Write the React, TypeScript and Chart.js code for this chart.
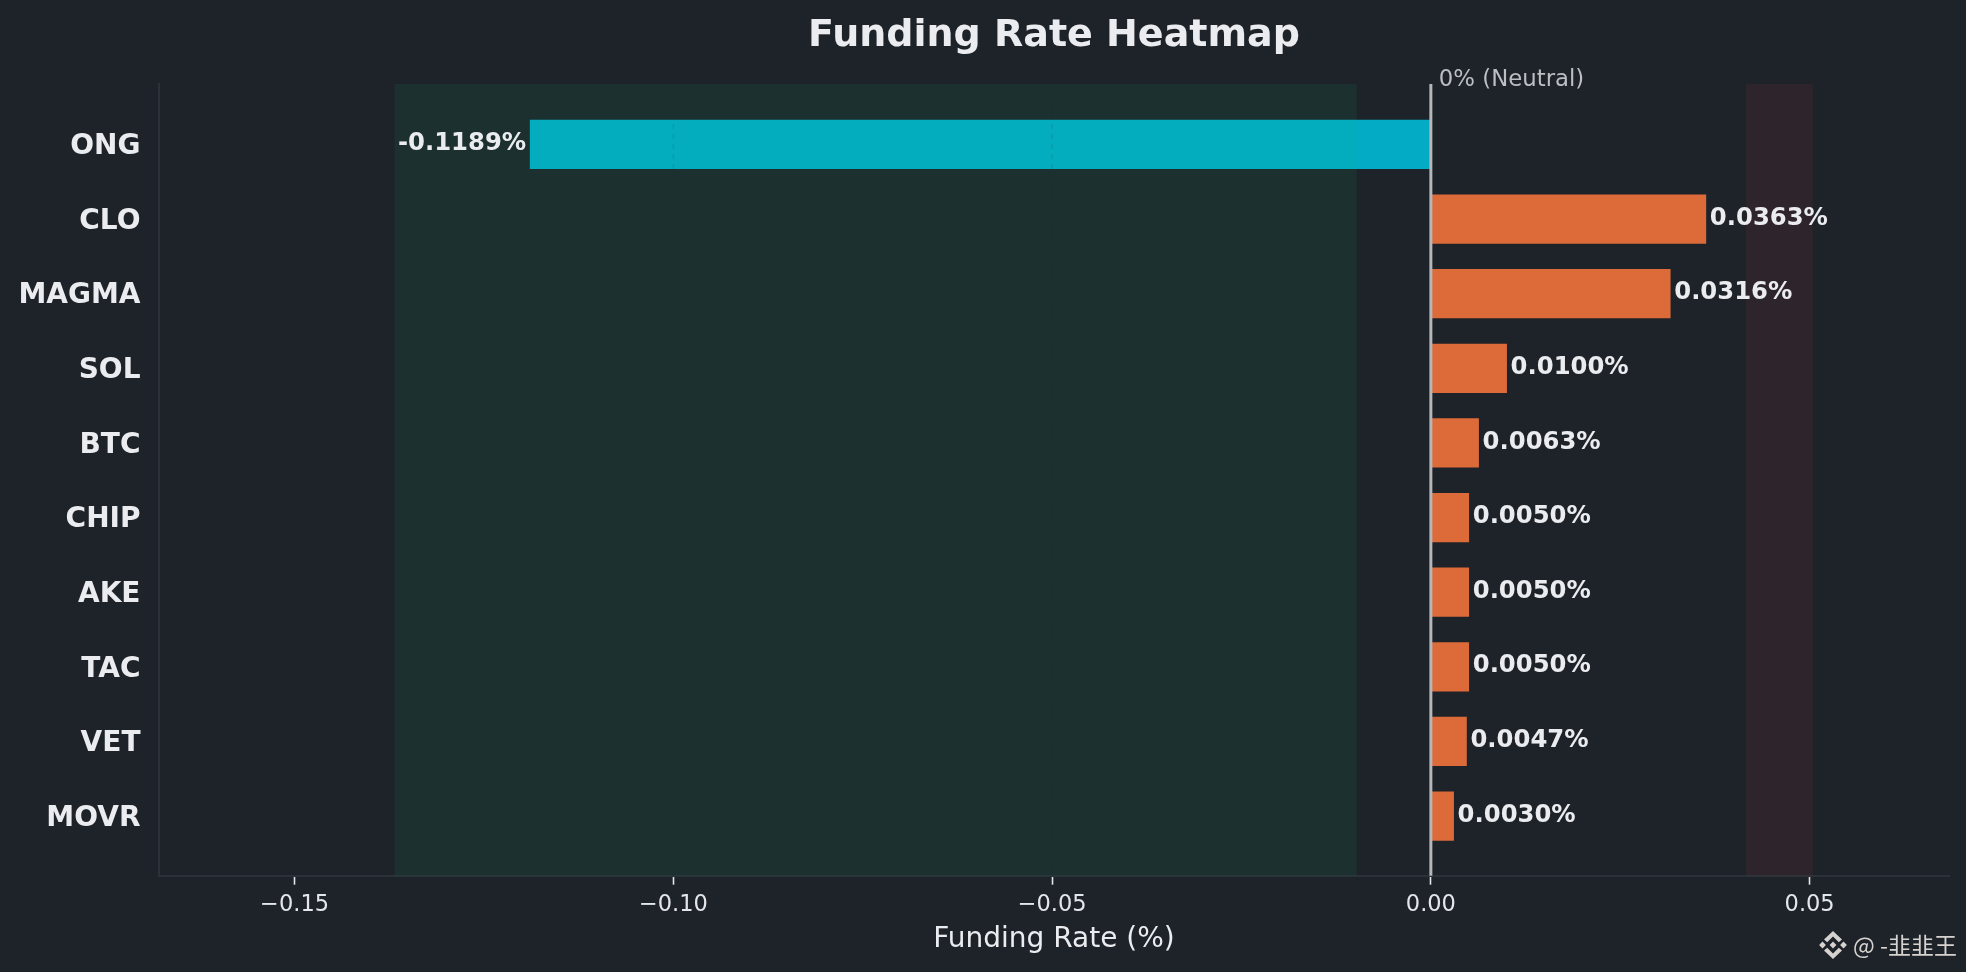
import { useEffect, useRef } from 'react';
import { Chart, registerables } from 'chart.js';

Chart.register(...registerables);

const symbols = ['ONG', 'CLO', 'MAGMA', 'SOL', 'BTC', 'CHIP', 'AKE', 'TAC', 'VET', 'MOVR'];
const fundingRates = [-0.1189, 0.0363, 0.0316, 0.01, 0.0063, 0.005, 0.005, 0.005, 0.0047, 0.003];
const rateTicks = [-0.15, -0.1, -0.05, 0, 0.05];
const greenBand = [-0.1368, -0.0098];
const redBand = [0.0416, 0.0504];

const BG = '#1e2329';
const TEXT = '#eaecef';
const SPINE = '#2b3139';
const FONT = '"DejaVu Sans", sans-serif';

const overlayPlugin = {
  id: 'overlay',
  afterDatasetsDraw(chart: Chart) {
    const { ctx, chartArea, scales } = chart;
    const x = scales.x;
    const { top, bottom } = chartArea;

    ctx.save();
    // grid sits over the bars, same colour as the page so it only shows on them
    ctx.strokeStyle = 'rgba(30, 35, 41, 0.13)';
    ctx.lineWidth = 1.5;
    ctx.setLineDash([5, 5]);
    rateTicks.forEach((t) => {
      const px = x.getPixelForValue(t);
      ctx.beginPath();
      ctx.moveTo(px, top);
      ctx.lineTo(px, bottom);
      ctx.stroke();
    });
    ctx.setLineDash([]);

    ctx.fillStyle = 'rgba(14, 203, 129, 0.08)';
    ctx.fillRect(x.getPixelForValue(greenBand[0]), top, x.getPixelForValue(greenBand[1]) - x.getPixelForValue(greenBand[0]), bottom - top);
    ctx.fillStyle = 'rgba(246, 70, 93, 0.08)';
    ctx.fillRect(x.getPixelForValue(redBand[0]), top, x.getPixelForValue(redBand[1]) - x.getPixelForValue(redBand[0]), bottom - top);

    const zero = x.getPixelForValue(0);
    ctx.strokeStyle = '#b5b7bb';
    ctx.lineWidth = 3;
    ctx.beginPath();
    ctx.moveTo(zero, top);
    ctx.lineTo(zero, bottom);
    ctx.stroke();

    ctx.fillStyle = '#bcbec2';
    ctx.font = `22.8px ${FONT}`;
    ctx.textAlign = 'left';
    ctx.textBaseline = 'middle';
    ctx.fillText('0% (Neutral)', zero + 8, 80.5);

    // value labels next to the bar ends
    ctx.fillStyle = TEXT;
    ctx.font = `bold 24.3px ${FONT}`;
    chart.getDatasetMeta(0).data.forEach((bar, i) => {
      const v = fundingRates[i];
      ctx.textAlign = v < 0 ? 'right' : 'left';
      ctx.fillText(`${v.toFixed(4)}%`, bar.x + (v < 0 ? -4 : 4), bar.y - 0.6);
    });

    // watermark
    ctx.fillStyle = '#d6d2cf';
    const lx = 1833;
    const ly = 945;
    const diamond = (cx: number, cy: number, r: number) => {
      ctx.beginPath();
      ctx.moveTo(cx, cy - r);
      ctx.lineTo(cx + r, cy);
      ctx.lineTo(cx, cy + r);
      ctx.lineTo(cx - r, cy);
      ctx.closePath();
      ctx.fill();
    };
    diamond(lx, ly, 3.4);
    diamond(lx - 10.5, ly, 3.4);
    diamond(lx + 10.5, ly, 3.4);
    [-1, 1].forEach((s) => {
      ctx.beginPath();
      ctx.moveTo(lx, ly + s * 14);
      ctx.lineTo(lx + 9, ly + s * 5.5);
      ctx.lineTo(lx + 5.8, ly + s * 2.7);
      ctx.lineTo(lx, ly + s * 8.4);
      ctx.lineTo(lx - 5.8, ly + s * 2.7);
      ctx.lineTo(lx - 9, ly + s * 5.5);
      ctx.closePath();
      ctx.fill();
    });
    ctx.font = `23px "Noto Sans CJK SC", "Noto Sans", sans-serif`;
    ctx.textAlign = 'left';
    ctx.fillText('@ -韭韭王', 1853, 945);
    ctx.restore();
  },
};

export default function App() {
  const canvasRef = useRef<HTMLCanvasElement>(null);

  useEffect(() => {
    document.body.style.margin = '0';
    document.body.style.background = BG;
    if (!canvasRef.current) return;

    const chart = new Chart(canvasRef.current, {
      type: 'bar',
      data: {
        datasets: [
          {
            data: fundingRates.map((v, i) => ({ x: v, y: i })),
            backgroundColor: fundingRates.map((v) => (v < 0 ? '#04abc4' : '#dd6b3a')),
            barThickness: 48.6,
            borderWidth: 0,
          },
        ],
      },
      options: {
        indexAxis: 'y',
        responsive: false,
        devicePixelRatio: 1,
        animation: false,
        layout: { padding: { left: 0, right: 17, top: 0, bottom: 0 } },
        plugins: {
          legend: { display: false },
          tooltip: { enabled: false },
          title: {
            display: true,
            fullSize: false,
            text: 'Funding Rate Heatmap',
            color: TEXT,
            font: { family: FONT, size: 38, weight: 'bold' },
            padding: { top: 13, bottom: 25.4 },
          },
        },
        scales: {
          x: {
            type: 'linear',
            min: -0.1679,
            max: 0.0684,
            afterFit: (scale) => {
              scale.height = 96.3;
            },
            afterBuildTicks: (scale) => {
              scale.ticks = rateTicks.map((value) => ({ value }));
            },
            border: { color: SPINE, width: 2 },
            grid: { drawOnChartArea: false, drawTicks: true, tickLength: 9, tickColor: '#e4e6ea', tickWidth: 1.6 },
            ticks: {
              color: '#e4e6ea',
              font: { family: FONT, size: 22.5 },
              padding: 6.5,
              maxRotation: 0,
              callback: (v) => (Number(v) < 0 ? '\u2212' : '') + Math.abs(Number(v)).toFixed(2),
            },
            title: {
              display: true,
              text: 'Funding Rate (%)',
              color: TEXT,
              font: { family: FONT, size: 28 },
              padding: { top: 8, bottom: 15 },
            },
          },
          y: {
            type: 'linear',
            reverse: true,
            offset: false,
            min: -0.81,
            max: 9.8,
            afterFit: (scale) => {
              scale.width = 159;
            },
            afterBuildTicks: (scale) => {
              scale.ticks = symbols.map((_, value) => ({ value }));
            },
            border: { color: SPINE, width: 2 },
            grid: { offset: false, drawOnChartArea: false, drawTicks: true, tickLength: 8, tickColor: 'transparent' },
            ticks: {
              color: TEXT,
              font: { family: FONT, size: 28, weight: 'bold' },
              padding: 10.5,
              labelOffset: 2.5,
              autoSkip: false,
              callback: (v) => symbols[Number(v)],
            },
          },
        },
      },
      plugins: [overlayPlugin],
    });

    return () => {
      chart.destroy();
    };
  }, []);

  return <canvas ref={canvasRef} width={1966} height={972} style={{ display: 'block' }} />;
}
